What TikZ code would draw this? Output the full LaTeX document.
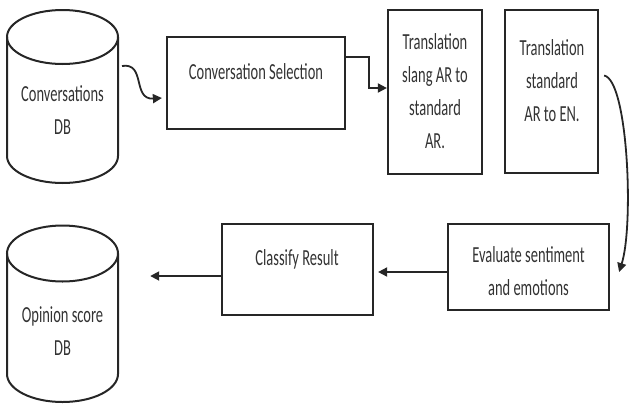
\documentclass[tikz,border=0pt]{standalone}
\usepackage{fontspec}
\setmainfont[FakeStretch=0.63]{Carlito}
\usetikzlibrary{arrows.meta,calc}
\begin{document}
\begin{tikzpicture}[x=1pt,y=-1pt,
  box/.style={draw=black!85, line width=2.2pt, inner sep=0pt},
  txt/.style={font=\fontsize{23}{33}\selectfont, align=center, inner sep=0pt, text=black!80},
  conn/.style={draw=black!85, line width=1.8pt, -{Triangle[length=9pt,width=9pt]}},
  cyl/.style={draw=black!85, line width=2pt}]
\useasboundingbox (0,0) rectangle (629,405);
% cylinders
\node[inner sep=0pt, minimum width=111pt, minimum height=173pt] (db1) at (62.5,96.5) {};
\draw[cyl] (7,37) -- (7,156) arc[start angle=180, end angle=0, x radius=55.5, y radius=27] -- (118,37);
\draw[cyl] (62.5,37) ellipse [x radius=55.5, y radius=27];
\node[txt] (db1t) at (62.5,110) {Conversations\\DB};
\node[inner sep=0pt, minimum width=111pt, minimum height=178pt] (db2) at (62.5,313) {};
\draw[cyl] (7,253.5) -- (7,374) arc[start angle=180, end angle=0, x radius=55.5, y radius=28] -- (118,253.5);
\draw[cyl] (62.5,253.5) ellipse [x radius=55.5, y radius=28];
\node[txt] (db2t) at (62.5,331.5) {Opinion score\\DB};
% boxes
\node[box, minimum width=178pt, minimum height=92pt] (sel) at (256,83) {};
\node[txt] (selt) at (256,72) {Conversation Selection};
\node[box, minimum width=94pt, minimum height=164pt] (slang) at (435,92) {};
\node[txt] (slangt) at (435,91.5) {Translation\\slang AR to\\standard\\AR.};
\node[box, minimum width=93pt, minimum height=163pt] (std) at (551.5,91.5) {};
\node[txt] (stdt) at (552,81) {Translation\\standard\\AR to EN.};
\node[box, minimum width=161pt, minimum height=86pt] (eval) at (528.5,267) {};
\node[txt] (evalt) at (528.5,271) {Evaluate sentiment\\and emotions};
\node[box, minimum width=151pt, minimum height=91pt] (cls) at (297.5,269.5) {};
\node[txt] (clst) at (297,259) {Classify Result};
% connectors
\coordinate (a1s) at (122,66);
\draw[conn] (a1s) .. controls (146,62) and (132,100) .. ([shift={(-4,15)}]sel.west);
\draw[conn] ([shift={(0,-26)}]sel.east) -| ++(23,31) -- ([shift={(0,-4)}]slang.west);
\draw[conn] ([shift={(5,-16)}]std.east) .. controls (628,80) and (634,225) .. ([shift={(9,5)}]eval.east);
\coordinate (a4s) at ([shift={(0,5)}]eval.west);
\draw[conn] (a4s) -- ($(a4s -| cls.east)+(4,0)$);
\coordinate (a5s) at ([shift={(0,6.5)}]cls.west);
\draw[conn] (a5s) -- ($(a5s -| db2.east)+(32,0)$);
\end{tikzpicture}
\end{document}
